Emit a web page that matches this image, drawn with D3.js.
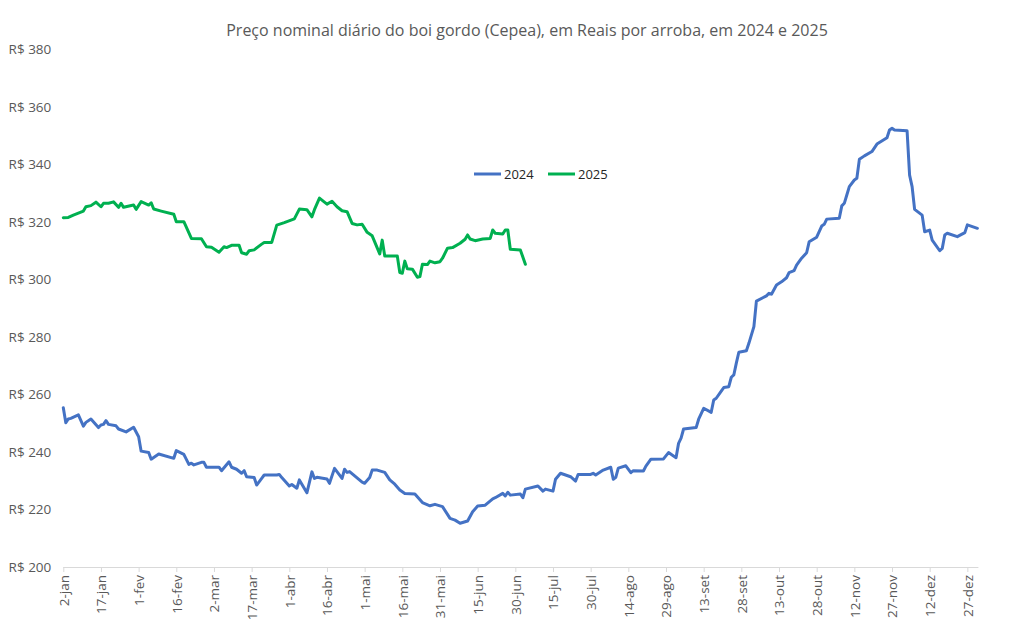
<!DOCTYPE html>
<html lang="pt-BR">
<head>
<meta charset="UTF-8">
<title>Boi gordo Cepea 2024 e 2025</title>
<script src="https://cdn.jsdelivr.net/npm/d3@7"></script>
<style>
  body { margin: 0; background: #fff; }
  #chart { width: 1012px; height: 629px; }
  .title { font-family: "Open Sans", sans-serif; font-size: 16px; fill: #595959; }
  .axis text { font-family: "Open Sans", sans-serif; fill: #595959; }
  .legend text { font-family: "Open Sans", sans-serif; font-size: 13px; fill: #262626; }
</style>
</head>
<body>
<div id="chart"></div>
<script>
// dados (dd/mm), valores em R$ por arroba
var dates2024 = ["02/01","03/01","04/01","05/01","08/01","10/01","11/01","13/01","16/01","17/01","18/01","19/01","20/01","23/01","24/01","27/01","30/01",
  "01/02","02/02","05/02","06/02","09/02","15/02","16/02","19/02","21/02","22/02","23/02","26/02","27/02","28/02",
  "04/03","05/03","08/03","09/03","11/03","13/03","14/03","15/03","18/03","19/03","21/03","22/03","27/03","28/03","29/03",
  "01/04","02/04","04/04","05/04","08/04","10/04","11/04","12/04","16/04","17/04","19/04","22/04","23/04","24/04","25/04","30/04",
  "01/05","03/05","04/05","06/05","09/05","11/05","13/05","15/05","17/05","21/05","24/05","27/05","29/05",
  "01/06","04/06","06/06","08/06","11/06","13/06","15/06","18/06","21/06","22/06","25/06","26/06","27/06","28/06",
  "02/07","03/07","04/07","09/07","11/07","12/07","15/07","16/07","18/07","22/07","24/07","25/07","30/07","31/07",
  "01/08","04/08","07/08","08/08","09/08","10/08","13/08","15/08","16/08","20/08","21/08","23/08","28/08","30/08",
  "02/09","03/09","04/09","05/09","10/09","11/09","13/09","16/09","17/09","18/09","20/09","21/09","23/09","24/09","25/09","26/09","27/09","30/09",
  "01/10","03/10","04/10","08/10","09/10","10/10","12/10","14/10","16/10","17/10","19/10","20/10","22/10","24/10","25/10","28/10","30/10","31/10",
  "01/11","06/11","07/11","08/11","09/11","10/11","12/11","13/11","14/11","16/11","19/11","21/11","25/11","26/11","27/11","28/11",
  "03/12","04/12","05/12","06/12","09/12","10/12","12/12","13/12","16/12","17/12","18/12","19/12","23/12","26/12","27/12","29/12","31/12"];
var values2024 = [255.4,250.2,251.5,251.7,252.9,249.0,250.3,251.5,248.5,249.4,249.6,250.9,249.6,249.1,248.0,247.0,248.6,
  245.3,240.3,239.8,237.5,239.3,237.8,240.5,239.2,235.7,236.1,235.5,236.4,236.4,234.7,
  234.7,233.5,236.6,234.7,234.0,232.6,233.5,231.4,231.1,228.5,230.8,232.0,232.0,232.2,231.1,
  228.2,228.7,227.4,230.3,225.8,233.1,230.8,231.2,230.6,229.1,234.3,230.8,234.0,232.9,233.2,229.5,
  229.1,231.1,233.7,233.7,232.9,230.3,228.8,226.8,225.6,225.4,222.4,221.3,221.8,
  221.0,216.9,216.3,215.2,216.0,219.2,221.2,221.5,223.7,224.1,225.6,224.7,226.0,225.0,
  225.4,224.1,227.1,228.2,226.4,227.1,226.4,230.5,232.6,231.4,229.9,232.2,232.2,232.6,
  232.0,233.7,234.7,230.5,231.2,234.4,235.2,232.8,233.5,233.4,235.1,237.5,237.6,239.8,
  238.0,243.0,244.8,248.0,248.5,251.4,255.2,253.8,258.1,258.7,261.2,262.4,262.7,266.0,266.8,270.9,274.7,275.2,
  277.8,283.6,292.5,294.3,295.2,294.9,298.1,299.2,300.6,302.4,303.1,305.0,307.4,309.3,313.1,314.7,318.6,319.2,
  321.0,321.3,325.6,326.5,329.4,332.3,334.6,335.2,341.8,343.0,344.5,347.1,349.3,352.0,352.6,352.0,
  351.7,336.3,332.3,324.4,322.4,316.6,317.2,313.7,310.0,310.8,315.5,316.1,314.9,316.3,319.0,318.4,317.8];

var dates2025 = ["02/01","04/01","06/01","10/01","11/01","13/01","15/01","17/01","18/01","20/01","22/01","24/01","25/01","26/01","30/01","31/01",
  "02/02","05/02","06/02","07/02","10/02","15/02","16/02","19/02","22/02","26/02","28/02",
  "01/03","04/03","06/03","07/03","09/03","12/03","13/03","15/03","16/03","18/03","21/03","22/03","25/03","27/03","30/03",
  "03/04","05/04","08/04","10/04","11/04","13/04","16/04","18/04","20/04","22/04","24/04","26/04","28/04","30/04",
  "02/05","04/05","07/05","08/05","09/05","14/05","15/05","16/05","17/05","18/05","20/05","22/05","23/05","24/05","26/05","27/05","29/05","31/05",
  "01/06","03/06","05/06","08/06","10/06","11/06","12/06","14/06","17/06","20/06","21/06","22/06","25/06","26/06","27/06","28/06",
  "02/07","04/07"];
var values2025 = [321.5,321.6,322.4,323.8,325.3,325.7,326.9,325.3,326.5,326.5,327.0,325.1,326.5,325.1,325.9,324.4,
  327.1,325.9,326.7,324.5,323.8,322.7,320.1,320.1,314.3,314.2,311.4,
  311.2,309.5,311.4,311.1,311.9,311.9,309.3,308.8,310.0,310.3,312.3,312.9,312.9,318.9,319.8,
  321.1,324.5,324.3,321.8,324.3,328.3,326.2,327.2,325.3,323.9,323.6,319.5,319.0,319.2,
  316.4,315.2,308.9,313.7,308.2,308.2,302.4,302.2,306.4,303.7,303.6,300.8,301.0,305.3,305.2,306.4,305.8,306.2,
  307.4,310.9,311.1,312.6,314.0,315.5,314.1,313.5,314.1,314.3,317.2,316.1,315.8,317.2,317.2,310.5,
  310.3,305.3];

var seriesNames = ["2024", "2025"];
var seriesColors = ["#4472C4", "#00B050"];
var yTicks = [200, 220, 240, 260, 280, 300, 320, 340, 360, 380];
var xTickLabels = ["2-jan","17-jan","1-fev","16-fev","2-mar","17-mar","1-abr","16-abr","1-mai","16-mai","31-mai","15-jun",
  "30-jun","15-jul","30-jul","14-ago","29-ago","13-set","28-set","13-out","28-out","12-nov","27-nov","12-dez","27-dez"];
var months = ["jan","fev","mar","abr","mai","jun","jul","ago","set","out","nov","dez"];

// as duas series vao no mesmo eixo de datas (ano de 2024)
function parseDM(s) {
  var p = s.split("/");
  return new Date(2024, +p[1] - 1, +p[0]);
}
function parseLabel(s) {
  var p = s.split("-");
  return new Date(2024, months.indexOf(p[1]), +p[0]);
}

var width = 1012, height = 629;
var plotLeft = 63.3, plotRight = 977.4, plotTop = 49.5, plotBottom = 567;

var series = [
  dates2024.map(function(d, i){ return {date: parseDM(d), value: values2024[i]}; }),
  dates2025.map(function(d, i){ return {date: parseDM(d), value: values2025[i]}; })
];

var x = d3.scaleTime()
  .domain([new Date(2024, 0, 2), new Date(2024, 11, 31)])
  .range([plotLeft, plotRight]);

var y = d3.scaleLinear()
  .domain([200, 380])
  .range([plotBottom, plotTop]);

var svg = d3.select("#chart").append("svg")
  .attr("width", width)
  .attr("height", height);

// titulo
svg.append("text")
  .attr("class", "title")
  .attr("x", 527)
  .attr("y", 36)
  .attr("text-anchor", "middle")
  .text("Preço nominal diário do boi gordo (Cepea), em Reais por arroba, em 2024 e 2025");

// eixo y (so os rotulos)
var yAxis = svg.append("g")
  .attr("class", "axis")
  .attr("transform", "translate(" + plotLeft + ",0)")
  .call(d3.axisLeft(y).tickValues(yTicks).tickSize(0).tickPadding(12)
    .tickFormat(function(d){ return "R$ " + d; }));
yAxis.select(".domain").remove();
yAxis.selectAll("text").style("font-size", "13.5px");

// eixo x com rotulos na vertical
var xAxis = svg.append("g")
  .attr("class", "axis")
  .attr("transform", "translate(0," + plotBottom + ")")
  .call(d3.axisBottom(x)
    .tickValues(xTickLabels.map(parseLabel))
    .tickSize(5)
    .tickFormat(function(d, i){ return xTickLabels[i]; }));
xAxis.select(".domain")
  .attr("d", "M" + plotLeft + ",0.5H" + (plotRight + 1))
  .attr("stroke", "#D9D9D9");
xAxis.selectAll("line").attr("stroke", "#D9D9D9");
xAxis.selectAll("text")
  .attr("transform", "rotate(-90)")
  .attr("x", -8)
  .attr("y", 0)
  .attr("dy", "0.35em")
  .style("text-anchor", "end")
  .style("font-size", "13.5px");

// linhas
var line = d3.line()
  .x(function(d){ return x(d.date); })
  .y(function(d){ return y(d.value); });

svg.selectAll("path.serie")
  .data(series)
  .enter()
  .append("path")
  .attr("class", "serie")
  .attr("d", line)
  .attr("fill", "none")
  .attr("stroke", function(d, i){ return seriesColors[i]; })
  .attr("stroke-width", 3)
  .attr("stroke-linejoin", "round")
  .attr("stroke-linecap", "round");

// legenda
var legend = svg.append("g")
  .attr("class", "legend")
  .attr("transform", "translate(474,174)");
var item = legend.selectAll("g")
  .data(seriesNames)
  .enter()
  .append("g")
  .attr("transform", function(d, i){ return "translate(" + (i * 74) + ",0)"; });
item.append("line")
  .attr("x1", 0).attr("x2", 27)
  .attr("stroke", function(d, i){ return seriesColors[i]; })
  .attr("stroke-width", 3);
item.append("text")
  .attr("x", 30)
  .attr("dy", "0.35em")
  .text(function(d){ return d; });
</script>
</body>
</html>
